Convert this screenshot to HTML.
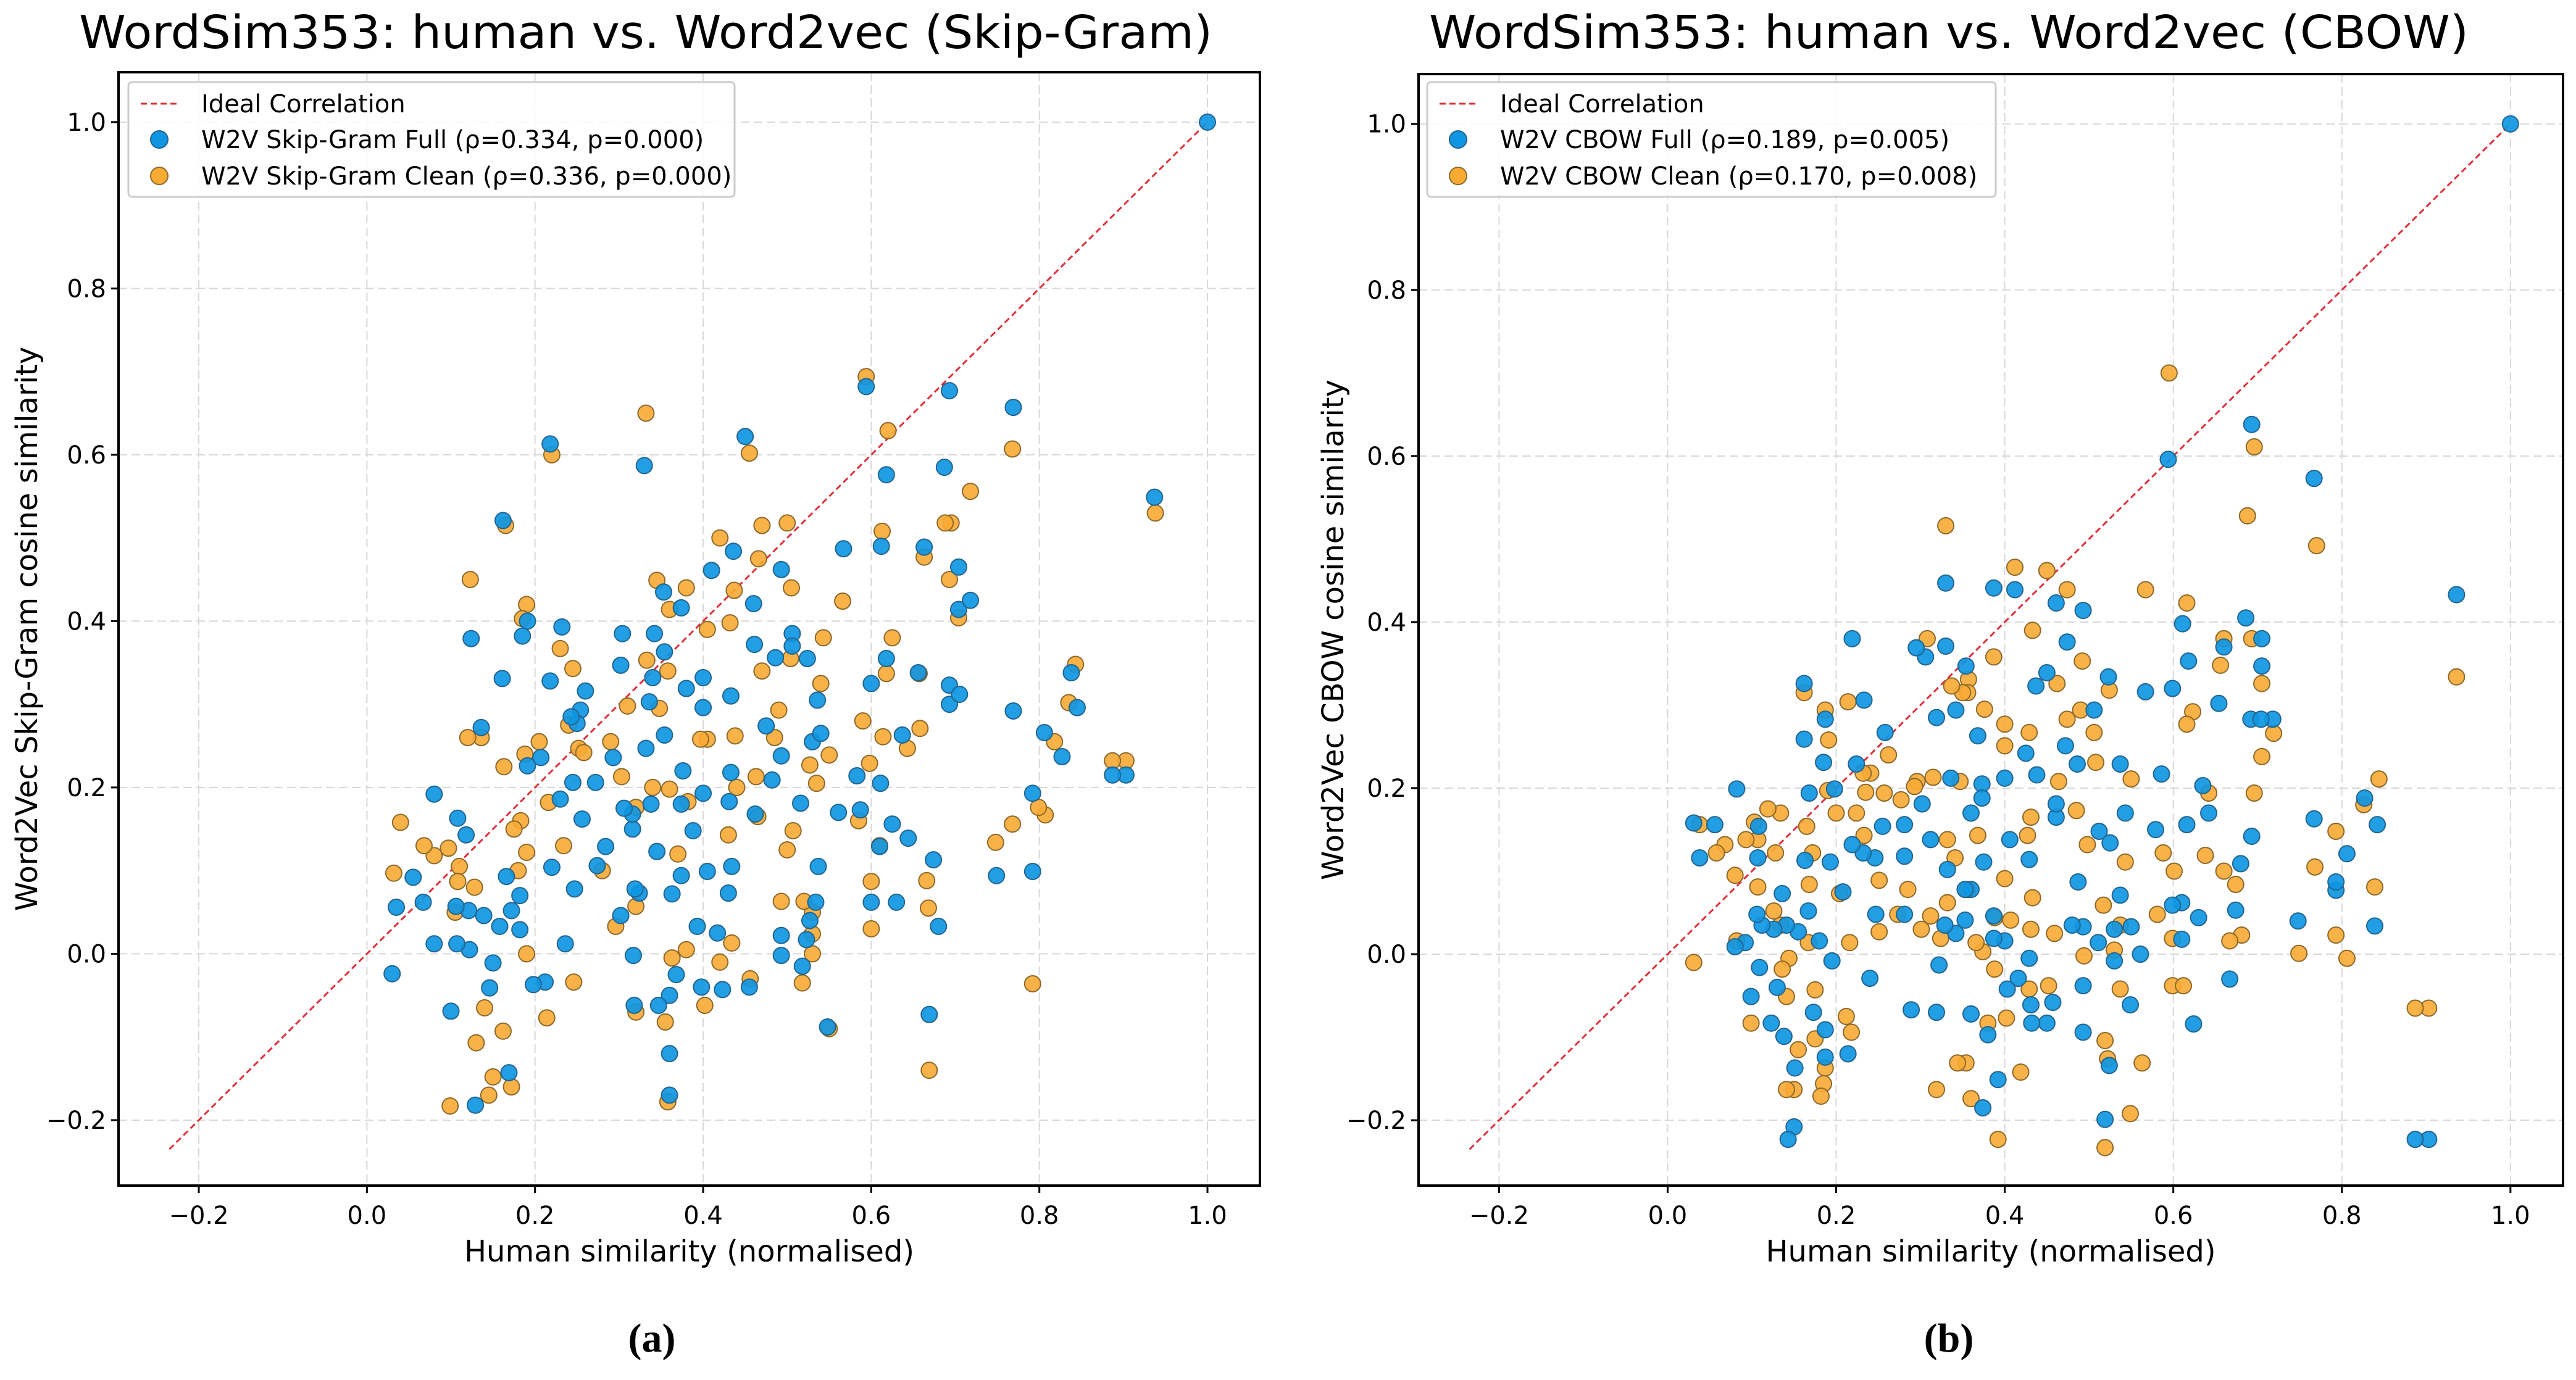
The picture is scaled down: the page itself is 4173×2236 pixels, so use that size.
<!DOCTYPE html>
<html><head><meta charset="utf-8">
<style>
html,body{margin:0;padding:0;background:#fff;}
svg{display:block;font-family:"DejaVu Sans","Liberation Sans",sans-serif;}
</style></head>
<body>
<svg id="fig" width="4173" height="2236" viewBox="0 0 4173 2236" xmlns="http://www.w3.org/2000/svg">
<rect x="0" y="0" width="4173" height="2236" fill="#fff"/>
</svg>
<script>
// ---------- data ----------
const xTicks = [-0.2, 0.0, 0.2, 0.4, 0.6, 0.8, 1.0];
const yTicks = [-0.2, 0.0, 0.2, 0.4, 0.6, 0.8, 1.0];
const xTickLabels = ["\u22120.2","0.0","0.2","0.4","0.6","0.8","1.0"];
const yTickLabels = ["\u22120.2","0.0","0.2","0.4","0.6","0.8","1.0"];
const titlesA = "WordSim353: human vs. Word2vec (Skip-Gram)";
const titlesB = "WordSim353: human vs. Word2vec (CBOW)";
const legendA = ["Ideal Correlation","W2V Skip-Gram Full (\u03c1=0.334, p=0.000)","W2V Skip-Gram Clean (\u03c1=0.336, p=0.000)"];
const legendB = ["Ideal Correlation","W2V CBOW Full (\u03c1=0.189, p=0.005)","W2V CBOW Clean (\u03c1=0.170, p=0.008)"];

const skipFull = [[1.0,1.0],[0.937,0.549],[0.903,0.215],[0.887,0.215],[0.845,0.296],[0.838,0.338],[0.827,0.237],[0.806,0.266],[0.792,0.193],[0.792,0.099],[0.749,0.094],[0.769,0.657],[0.769,0.292],[0.693,0.677],[0.687,0.585],[0.704,0.465],[0.704,0.414],[0.718,0.425],[0.693,0.323],[0.693,0.300],[0.705,0.312],[0.669,-0.073],[0.68,0.033],[0.674,0.113],[0.663,0.489],[0.656,0.338],[0.637,0.263],[0.644,0.139],[0.625,0.156],[0.63,0.062],[0.61,0.129],[0.618,0.355],[0.6,0.325],[0.611,0.205],[0.594,0.682],[0.618,0.576],[0.612,0.49],[0.567,0.487],[0.6,0.062],[0.583,0.214],[0.587,0.173],[0.561,0.17],[0.548,-0.088],[0.527,0.04],[0.518,-0.015],[0.523,0.017],[0.534,0.062],[0.537,0.105],[0.53,0.255],[0.54,0.265],[0.536,0.305],[0.524,0.355],[0.516,0.181],[0.506,0.385],[0.506,0.37],[0.493,0.462],[0.486,0.356],[0.493,0.238],[0.493,-0.002],[0.493,0.022],[0.482,0.209],[0.475,0.274],[0.461,0.372],[0.462,0.168],[0.455,-0.04],[0.45,0.622],[0.46,0.421],[0.436,0.484],[0.433,0.31],[0.433,0.218],[0.431,0.183],[0.434,0.105],[0.43,0.073],[0.423,-0.043],[0.417,0.025],[0.41,0.461],[0.405,0.099],[0.4,0.332],[0.4,0.296],[0.4,0.193],[0.398,-0.04],[0.393,0.033],[0.388,0.148],[0.38,0.319],[0.376,0.22],[0.374,0.416],[0.374,0.094],[0.374,0.18],[0.363,0.072],[0.368,-0.025],[0.36,-0.12],[0.36,-0.17],[0.36,-0.05],[0.353,0.435],[0.354,0.363],[0.354,0.263],[0.347,-0.062],[0.345,0.123],[0.342,0.385],[0.34,0.332],[0.338,0.18],[0.336,0.303],[0.33,0.587],[0.332,0.247],[0.324,0.073],[0.319,0.078],[0.316,0.15],[0.316,0.168],[0.306,0.175],[0.304,0.385],[0.317,-0.002],[0.318,-0.062],[0.302,0.347],[0.302,0.046],[0.293,0.236],[0.284,0.129],[0.272,0.206],[0.274,0.106],[0.26,0.316],[0.256,0.162],[0.254,0.293],[0.25,0.277],[0.243,0.285],[0.247,0.078],[0.245,0.206],[0.236,0.012],[0.232,0.393],[0.23,0.186],[0.218,0.328],[0.218,0.613],[0.22,0.104],[0.212,-0.034],[0.207,0.236],[0.198,-0.037],[0.191,0.226],[0.191,0.4],[0.185,0.382],[0.182,0.07],[0.182,0.029],[0.172,0.052],[0.169,-0.143],[0.166,0.093],[0.161,0.331],[0.162,0.521],[0.158,0.033],[0.15,-0.011],[0.146,-0.041],[0.139,0.046],[0.136,0.272],[0.129,-0.182],[0.124,0.379],[0.122,0.005],[0.121,0.052],[0.118,0.143],[0.108,0.163],[0.107,0.012],[0.106,0.057],[0.1,-0.069],[0.08,0.192],[0.08,0.012],[0.067,0.062],[0.055,0.092],[0.035,0.056],[0.03,-0.024]];

const skipClean = [[0.938,0.53],[0.903,0.232],[0.887,0.232],[0.843,0.348],[0.835,0.302],[0.818,0.255],[0.807,0.167],[0.799,0.176],[0.792,-0.036],[0.768,0.607],[0.768,0.156],[0.748,0.134],[0.718,0.556],[0.695,0.518],[0.688,0.518],[0.693,0.45],[0.704,0.404],[0.657,0.337],[0.663,0.477],[0.658,0.271],[0.643,0.247],[0.668,0.055],[0.666,0.088],[0.669,-0.14],[0.613,0.508],[0.62,0.629],[0.625,0.38],[0.618,0.337],[0.614,0.261],[0.61,0.13],[0.6,0.087],[0.6,0.03],[0.594,0.694],[0.598,0.229],[0.585,0.16],[0.59,0.28],[0.566,0.424],[0.543,0.38],[0.55,0.239],[0.55,-0.09],[0.54,0.325],[0.53,0.05],[0.53,0.024],[0.53,0.0],[0.535,0.205],[0.527,0.227],[0.52,0.063],[0.518,-0.035],[0.5,0.518],[0.505,0.44],[0.504,0.355],[0.5,0.125],[0.507,0.148],[0.493,0.063],[0.49,0.293],[0.485,0.26],[0.47,0.515],[0.466,0.475],[0.47,0.34],[0.463,0.213],[0.455,0.602],[0.456,-0.03],[0.465,0.165],[0.437,0.437],[0.432,0.398],[0.44,0.2],[0.438,0.262],[0.43,0.143],[0.434,0.013],[0.42,0.5],[0.42,-0.01],[0.405,0.39],[0.405,0.258],[0.397,0.258],[0.402,-0.062],[0.38,0.44],[0.382,0.183],[0.38,0.005],[0.37,0.12],[0.36,0.414],[0.358,0.34],[0.36,0.198],[0.363,-0.005],[0.355,-0.082],[0.358,-0.178],[0.345,0.449],[0.348,0.295],[0.34,0.2],[0.332,0.65],[0.333,0.353],[0.32,0.176],[0.32,0.057],[0.32,-0.07],[0.31,0.298],[0.303,0.213],[0.296,0.033],[0.29,0.255],[0.28,0.1],[0.252,0.247],[0.258,0.242],[0.245,0.343],[0.24,0.275],[0.23,0.367],[0.234,0.13],[0.246,-0.034],[0.22,0.6],[0.216,0.182],[0.214,-0.077],[0.205,0.255],[0.19,0.42],[0.185,0.403],[0.188,0.24],[0.183,0.16],[0.19,0.122],[0.19,0.0],[0.18,0.1],[0.175,0.15],[0.172,-0.16],[0.165,0.515],[0.163,0.225],[0.162,-0.093],[0.15,-0.148],[0.145,-0.17],[0.14,-0.065],[0.136,0.26],[0.13,-0.107],[0.128,0.08],[0.123,0.45],[0.12,0.26],[0.11,0.105],[0.108,0.087],[0.105,0.05],[0.099,-0.183],[0.097,0.127],[0.08,0.118],[0.068,0.13],[0.04,0.158],[0.032,0.097]];

const cbowFull = [[1.0,1.0],[0.936,0.433],[0.903,-0.223],[0.887,-0.223],[0.842,0.156],[0.827,0.188],[0.839,0.034],[0.806,0.121],[0.793,0.077],[0.793,0.087],[0.767,0.573],[0.767,0.163],[0.748,0.04],[0.693,0.638],[0.686,0.405],[0.705,0.38],[0.705,0.347],[0.692,0.283],[0.718,0.283],[0.704,0.283],[0.693,0.142],[0.68,0.109],[0.674,0.053],[0.667,-0.03],[0.66,0.37],[0.654,0.302],[0.642,0.17],[0.635,0.203],[0.63,0.044],[0.624,-0.084],[0.618,0.353],[0.611,0.398],[0.61,0.062],[0.61,0.018],[0.616,0.156],[0.599,0.32],[0.599,0.059],[0.594,0.596],[0.586,0.217],[0.579,0.15],[0.567,0.316],[0.561,0.0],[0.55,0.033],[0.549,-0.061],[0.543,0.17],[0.537,0.071],[0.537,0.229],[0.53,0.03],[0.53,-0.008],[0.523,0.334],[0.525,0.134],[0.519,-0.199],[0.524,-0.134],[0.512,0.148],[0.511,0.014],[0.506,0.294],[0.493,0.414],[0.493,-0.094],[0.493,-0.038],[0.493,0.033],[0.487,0.087],[0.48,0.035],[0.486,0.229],[0.474,0.376],[0.472,0.251],[0.461,0.423],[0.461,0.165],[0.461,0.181],[0.45,0.339],[0.45,-0.083],[0.457,-0.058],[0.437,0.323],[0.438,0.216],[0.432,-0.083],[0.431,-0.061],[0.429,0.114],[0.429,-0.005],[0.425,0.242],[0.412,0.439],[0.416,-0.029],[0.406,0.138],[0.403,-0.042],[0.4,0.016],[0.4,0.212],[0.387,0.441],[0.392,-0.151],[0.387,0.046],[0.387,0.019],[0.38,-0.097],[0.374,-0.185],[0.375,0.111],[0.373,0.205],[0.373,0.188],[0.368,0.263],[0.36,0.17],[0.36,0.078],[0.36,-0.072],[0.353,0.041],[0.354,0.347],[0.353,0.078],[0.342,0.294],[0.342,0.025],[0.336,0.212],[0.332,0.102],[0.33,0.447],[0.33,0.371],[0.329,0.035],[0.322,-0.013],[0.319,-0.07],[0.319,0.285],[0.312,0.138],[0.306,0.358],[0.302,0.181],[0.295,0.369],[0.289,-0.067],[0.281,0.156],[0.281,0.118],[0.281,0.048],[0.258,0.267],[0.255,0.154],[0.247,0.048],[0.246,0.116],[0.24,-0.029],[0.233,0.306],[0.232,0.122],[0.224,0.229],[0.219,0.38],[0.219,0.132],[0.214,-0.12],[0.208,0.075],[0.198,0.199],[0.195,-0.008],[0.193,0.111],[0.187,-0.091],[0.187,0.283],[0.185,0.231],[0.187,-0.124],[0.18,0.016],[0.173,-0.07],[0.168,0.194],[0.167,0.052],[0.163,0.113],[0.162,0.326],[0.162,0.259],[0.155,0.027],[0.151,-0.137],[0.15,-0.208],[0.143,-0.223],[0.141,0.035],[0.138,-0.099],[0.136,0.073],[0.13,-0.04],[0.126,0.03],[0.123,-0.083],[0.112,0.035],[0.109,-0.016],[0.108,0.154],[0.107,0.116],[0.106,0.048],[0.099,-0.051],[0.092,0.014],[0.082,0.199],[0.08,0.009],[0.056,0.156],[0.038,0.116],[0.031,0.158]];

const cbowClean = [[0.936,0.334],[0.903,-0.065],[0.887,-0.065],[0.844,0.211],[0.839,0.081],[0.826,0.18],[0.806,-0.005],[0.793,0.023],[0.793,0.148],[0.77,0.492],[0.768,0.105],[0.749,0.001],[0.696,0.611],[0.688,0.528],[0.693,0.38],[0.705,0.326],[0.705,0.238],[0.719,0.266],[0.696,0.194],[0.681,0.023],[0.674,0.084],[0.667,0.016],[0.66,0.1],[0.66,0.38],[0.656,0.348],[0.638,0.119],[0.642,0.194],[0.623,0.292],[0.616,0.423],[0.616,0.277],[0.599,-0.038],[0.612,-0.038],[0.599,0.019],[0.601,0.1],[0.595,0.7],[0.588,0.122],[0.581,0.048],[0.567,0.439],[0.563,-0.131],[0.55,0.211],[0.549,-0.192],[0.543,0.111],[0.537,0.035],[0.537,-0.042],[0.53,0.005],[0.524,0.318],[0.517,0.059],[0.519,-0.104],[0.519,-0.233],[0.522,-0.126],[0.508,0.231],[0.506,0.267],[0.498,0.132],[0.494,-0.002],[0.492,0.353],[0.49,0.294],[0.485,0.173],[0.474,0.439],[0.474,0.283],[0.459,0.025],[0.464,0.208],[0.462,0.326],[0.452,-0.038],[0.45,0.462],[0.433,0.39],[0.433,0.068],[0.431,0.165],[0.431,0.03],[0.429,0.267],[0.429,-0.042],[0.427,0.143],[0.419,-0.142],[0.412,0.466],[0.407,0.041],[0.402,-0.077],[0.4,0.277],[0.4,0.251],[0.4,0.091],[0.392,-0.223],[0.388,0.044],[0.388,-0.018],[0.387,0.358],[0.38,-0.083],[0.376,0.295],[0.374,0.003],[0.368,0.143],[0.366,0.014],[0.36,-0.174],[0.356,0.078],[0.354,-0.131],[0.357,0.331],[0.356,0.315],[0.35,0.315],[0.347,0.208],[0.344,-0.131],[0.341,0.116],[0.337,0.323],[0.332,0.062],[0.332,0.138],[0.33,0.516],[0.324,0.019],[0.319,-0.163],[0.315,0.213],[0.312,0.046],[0.308,0.38],[0.301,0.03],[0.296,0.208],[0.293,0.202],[0.285,0.078],[0.277,0.186],[0.273,0.048],[0.262,0.24],[0.257,0.194],[0.251,0.089],[0.251,0.027],[0.241,0.218],[0.235,0.195],[0.233,0.143],[0.232,0.218],[0.224,0.17],[0.218,-0.094],[0.216,0.014],[0.214,0.304],[0.212,-0.075],[0.204,0.073],[0.2,0.17],[0.191,0.258],[0.19,0.197],[0.187,0.294],[0.187,-0.137],[0.185,-0.156],[0.182,-0.171],[0.175,-0.043],[0.175,-0.102],[0.172,0.122],[0.168,0.084],[0.167,0.014],[0.165,0.154],[0.162,0.315],[0.155,-0.115],[0.15,-0.163],[0.141,-0.163],[0.144,-0.005],[0.141,-0.051],[0.136,-0.018],[0.134,0.035],[0.128,0.122],[0.134,0.17],[0.126,0.052],[0.119,0.175],[0.107,0.081],[0.107,0.138],[0.103,0.159],[0.099,-0.083],[0.093,0.138],[0.082,0.016],[0.08,0.095],[0.068,0.132],[0.058,0.122],[0.038,0.156],[0.031,-0.01]];

const idealLine = [-0.235, 1.0];

// ---------- drawing ----------
const NS = "http://www.w3.org/2000/svg";
const svg = document.getElementById("fig");
const XMIN = -0.2955, XMAX = 1.0624, YMIN = -0.2787, YMAX = 1.060;
const BLUE = "#0e96e2", BLUE_E = "#23658f", ORANGE = "#f8aa33", ORANGE_E = "#8c6a2c";

function mk(tag, attrs, parent) {
  const el = document.createElementNS(NS, tag);
  for (const k in attrs) el.setAttribute(k, attrs[k]);
  (parent || svg).appendChild(el);
  return el;
}

function drawPanel(p) {
  const g = mk("g", {});
  
  
  const L = p.L, R = p.R, T = p.T, B = p.B;
  const sx = v => L + (v - XMIN) / (XMAX - XMIN) * (R - L);
  const sy = v => B - (v - YMIN) / (YMAX - YMIN) * (B - T);

  // title
  const t = mk("text", {x: p.titleX, y: 78, "font-size": 74, "text-anchor": "middle", fill: "#000", textLength: p.titleW, lengthAdjust: "spacingAndGlyphs"}, g);
  t.textContent = p.title;
  
  

  // grid
  const grid = mk("g", {stroke: "#d8d8d8", "stroke-width": 2, "stroke-dasharray": "14,7"}, g);
  
  
  xTicks.forEach(v => { mk("line", {x1: sx(v), x2: sx(v), y1: T, y2: B}, grid); });
  yTicks.forEach(v => { mk("line", {x1: L, x2: R, y1: sy(v), y2: sy(v)}, grid); });

  // ticks + labels
  xTicks.forEach((v, i) => {
    mk("line", {x1: sx(v), x2: sx(v), y1: B, y2: B + 12, stroke: "#000", "stroke-width": 3}, g);
    const tl = mk("text", {x: sx(v), y: B + 62, "font-size": 40, "text-anchor": "middle", fill: "#000"}, g);
    tl.textContent = xTickLabels[i];
    
    
  });
  yTicks.forEach((v, i) => {
    mk("line", {x1: L - 12, x2: L, y1: sy(v), y2: sy(v), stroke: "#000", "stroke-width": 3}, g);
    const tl = mk("text", {x: L - 20, y: sy(v) + 14, "font-size": 40, "text-anchor": "end", fill: "#000"}, g);
    tl.textContent = yTickLabels[i];
    
    
  });

  // ideal line
  const il = mk("line", {x1: sx(idealLine[0]), y1: sy(idealLine[0]), x2: sx(idealLine[1]), y2: sy(idealLine[1]), stroke: "#e0303a", "stroke-width": 3, "stroke-dasharray": "10,6"}, g);
  
  

  // points: clean first, full on top
  const gc = mk("g", {}, g);
  
  
  p.clean.forEach(d => {
    const c = mk("circle", {cx: sx(d[0]), cy: sy(d[1]), r: 13, fill: ORANGE, stroke: ORANGE_E, "stroke-width": 2, "fill-opacity": 0.9}, gc);
    
    
  });
  const gf = mk("g", {}, g);
  
  
  p.full.forEach(d => {
    const c = mk("circle", {cx: sx(d[0]), cy: sy(d[1]), r: 13, fill: BLUE, stroke: BLUE_E, "stroke-width": 2, "fill-opacity": 0.92}, gf);
    
    
  });

  // frame
  const fr = mk("rect", {x: L, y: T, width: R - L, height: B - T, fill: "none", stroke: "#000", "stroke-width": 4}, g);
  
  

  // axis titles
  const xt = mk("text", {x: (L + R) / 2, y: B + 123, "font-size": 48, "text-anchor": "middle", fill: "#000"}, g);
  xt.textContent = "Human similarity (normalised)";
  
  
  const cy = (T + B) / 2;
  const yt = mk("text", {x: p.yTitleX, y: cy, "font-size": 48, "text-anchor": "middle", fill: "#000", transform: "rotate(-90 " + p.yTitleX + " " + cy + ")"}, g);
  yt.textContent = p.yTitle;
  
  

  // legend
  const lg = mk("g", {}, g);
  
  
  mk("rect", {x: p.legX, y: 133, width: p.legW, height: 186, fill: "#fff", "fill-opacity": 0.85, stroke: "#cccccc", "stroke-width": 3, rx: 6}, lg);
  const rows = [168, 226, 285];
  const mx = p.legX + 50;
  mk("line", {x1: p.legX + 20, x2: p.legX + 82, y1: rows[0], y2: rows[0], stroke: "#e0303a", "stroke-width": 3, "stroke-dasharray": "10,6"}, lg);
  mk("circle", {cx: mx, cy: rows[1], r: 14, fill: BLUE, stroke: BLUE_E, "stroke-width": 2}, lg);
  mk("circle", {cx: mx, cy: rows[2], r: 14, fill: ORANGE, stroke: ORANGE_E, "stroke-width": 2}, lg);
  p.legend.forEach((s, i) => {
    const lt = mk("text", {x: p.legX + 118, y: rows[i] + 14, "font-size": 40, fill: "#000"}, lg);
    lt.textContent = s;
    
    
  });

  // caption
  const cap = mk("text", {x: p.capX, y: 2190, "font-size": 66, "font-weight": "bold", "text-anchor": "middle", fill: "#000", "font-family": "Liberation Serif, serif"}, g);
  cap.textContent = p.caption;
  
  
}

drawPanel({name: "skipgram-panel", L: 192, R: 2041, T: 117, B: 1921, title: titlesA, titleX: 1046, titleW: 1836,
  yTitle: "Word2Vec Skip-Gram cosine similarity", yTitleX: 60, legX: 208, legW: 982, legend: legendA,
  full: skipFull, clean: skipClean, caption: "(a)", capX: 1056});
drawPanel({name: "cbow-panel", L: 2298, R: 4152, T: 120, B: 1921, title: titlesB, titleX: 3157, titleW: 1684,
  yTitle: "Word2Vec CBOW cosine similarity", yTitleX: 2176, legX: 2312, legW: 921, legend: legendB,
  full: cbowFull, clean: cbowClean, caption: "(b)", capX: 3157});
</script>
</body></html>
